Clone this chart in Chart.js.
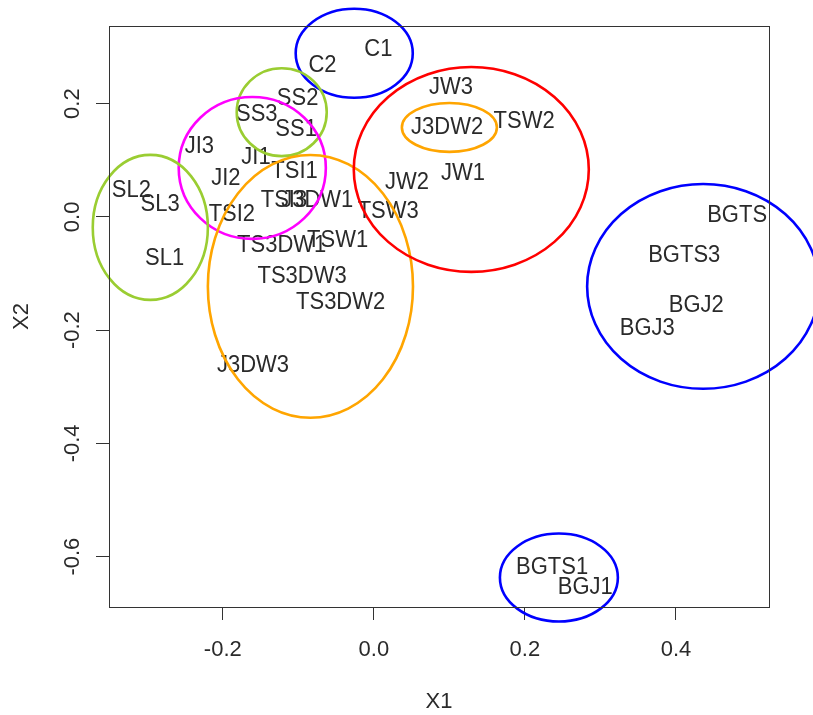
<!DOCTYPE html>
<html><head><meta charset="utf-8">
<script src="https://cdn.jsdelivr.net/npm/chart.js@4.4.1/dist/chart.umd.min.js"></script>
<style>html,body{margin:0;padding:0;background:#fff;}canvas{display:block;}</style>
</head><body>
<canvas id="c" width="813" height="715"></canvas>
<script>
// ---- data ----
const sampleNames = ['C1','C2','SS2','SS3','SS1','JI3','JI1','TSI1','JI2','SL2','SL3','TSI3','J3DW1','TSI2','TSW3','JW2','SL1','TS3DW1','TSW1','TS3DW3','TS3DW2','J3DW3','JW3','J3DW2','TSW2','JW1','BGTS','BGTS3','BGJ2','BGJ3','BGTS1','BGJ1'];
const x1Values = [0.006,-0.068,-0.101,-0.155,-0.103,-0.231,-0.156,-0.105,-0.196,-0.321,-0.283,-0.119,-0.075,-0.188,0.019,0.044,-0.277,-0.122,-0.048,-0.095,-0.044,-0.160,0.102,0.097,0.199,0.118,0.481,0.411,0.427,0.362,0.236,0.280];
const x2Values = [0.295,0.268,0.209,0.181,0.154,0.125,0.104,0.080,0.068,0.046,0.021,0.028,0.028,0.004,0.010,0.061,-0.073,-0.051,-0.041,-0.105,-0.151,-0.262,0.228,0.157,0.169,0.076,0.002,-0.068,-0.157,-0.198,-0.619,-0.654];

// group ellipses (centre and semi-axes in data units)
const ellipseCX = [-0.026,-0.122,-0.161,-0.296,-0.084,0.129,0.100,0.436,0.245];
const ellipseCY = [0.289,0.185,0.0865,-0.0185,-0.1227,0.0838,0.158,-0.1227,-0.637];
const ellipseRX = [0.0775,0.0596,0.0974,0.0762,0.1358,0.1556,0.0629,0.1536,0.0781];
const ellipseRY = [0.0786,0.0777,0.1253,0.128,0.2321,0.1809,0.0432,0.1809,0.0777];
const ellipseColors = ['#0000FF','#9ACD32','#FF00FF','#9ACD32','#FFA500','#FF0000','#FFA500','#0000FF','#0000FF'];

const xTickValues = [-0.2, 0.0, 0.2, 0.4];
const yTickValues = [-0.6, -0.4, -0.2, 0.0, 0.2];
const xLimits = [-0.3507, 0.5232];
const yLimits = [-0.689, 0.3372];

// ---- drawing ----
const FONT = {family: '"Liberation Sans", Arial, sans-serif', size: 22};
const TXT = '#2a2a2a';

const textLabels = {
  id: 'textLabels',
  afterDatasetsDraw(chart) {
    const ctx = chart.ctx, meta = chart.getDatasetMeta(0);
    ctx.save();
    ctx.font = FONT.size + 'px ' + FONT.family;
    ctx.fillStyle = TXT;
    ctx.textAlign = 'center';
    ctx.textBaseline = 'middle';
    meta.data.forEach((pt, i) => {
      ctx.save();
      ctx.translate(pt.x, pt.y);
      ctx.scale(1, 1.06);
      ctx.fillText(sampleNames[i], 0, 0);
      ctx.restore();
    });
    ctx.restore();
  }
};
const ellipsePlugin = {
  id: 'ellipses',
  afterDraw(chart) {
    const xs = chart.scales.x, ys = chart.scales.y, ctx = chart.ctx;
    ctx.save();
    ctx.lineWidth = 2.6;
    ellipseCX.forEach((cxv, i) => {
      const cx = xs.getPixelForValue(cxv), cy = ys.getPixelForValue(ellipseCY[i]);
      const rx = Math.abs(xs.getPixelForValue(cxv + ellipseRX[i]) - cx);
      const ry = Math.abs(ys.getPixelForValue(ellipseCY[i] + ellipseRY[i]) - cy);
      ctx.beginPath();
      ctx.ellipse(cx, cy, rx, ry, 0, 0, Math.PI * 2);
      ctx.strokeStyle = ellipseColors[i];
      ctx.stroke();
    });
    ctx.restore();
  }
};
const boxPlugin = {
  id: 'box',
  afterDraw(chart) {
    const a = chart.chartArea, ctx = chart.ctx;
    ctx.save();
    ctx.strokeStyle = '#333';
    ctx.lineWidth = 1;
    ctx.strokeRect(Math.round(a.left) + 0.5, Math.round(a.top) + 0.5, Math.round(a.right - a.left), Math.round(a.bottom - a.top));
    ctx.restore();
  }
};

new Chart(document.getElementById('c'), {
  type: 'scatter',
  data: {datasets: [{
    data: sampleNames.map((n, i) => ({x: x1Values[i], y: x2Values[i]})),
    pointRadius: 0, pointHoverRadius: 0
  }]},
  options: {
    responsive: false, animation: false, devicePixelRatio: 1, events: [],
    layout: {padding: {top: 26, right: 44, left: 0, bottom: 0}},
    plugins: {legend: {display: false}, tooltip: {enabled: false}},
    scales: {
      x: {
        type: 'linear', position: 'bottom', min: xLimits[0], max: xLimits[1],
        afterBuildTicks: s => { s.ticks = xTickValues.map(v => ({value: v})); },
        afterFit: s => { s.height = 108; },
        ticks: {font: FONT, color: TXT, padding: 17, autoSkip: false, maxRotation: 0, minRotation: 0,
                callback: v => Number(v).toFixed(1)},
        grid: {drawOnChartArea: false, drawTicks: true, tickLength: 13, tickColor: '#333', tickWidth: 1},
        border: {display: true, color: '#333', width: 1},
        title: {display: true, text: 'X1', font: FONT, color: TXT, padding: {top: 0, bottom: 0}}
      },
      y: {
        type: 'linear', position: 'left', min: yLimits[0], max: yLimits[1],
        afterBuildTicks: s => { s.ticks = yTickValues.map(v => ({value: v})); },
        afterFit: s => { s.width = 109; },
        ticks: {font: FONT, color: TXT, padding: 4, autoSkip: false, minRotation: 90, maxRotation: 90,
                crossAlign: 'center', callback: v => Number(v).toFixed(1)},
        grid: {drawOnChartArea: false, drawTicks: true, tickLength: 13, tickColor: '#333', tickWidth: 1},
        border: {display: true, color: '#333', width: 1},
        title: {display: true, text: 'X2', font: FONT, color: TXT, padding: {top: 9, bottom: 0}}
      }
    }
  },
  plugins: [textLabels, ellipsePlugin, boxPlugin]
});
</script>
</body></html>
